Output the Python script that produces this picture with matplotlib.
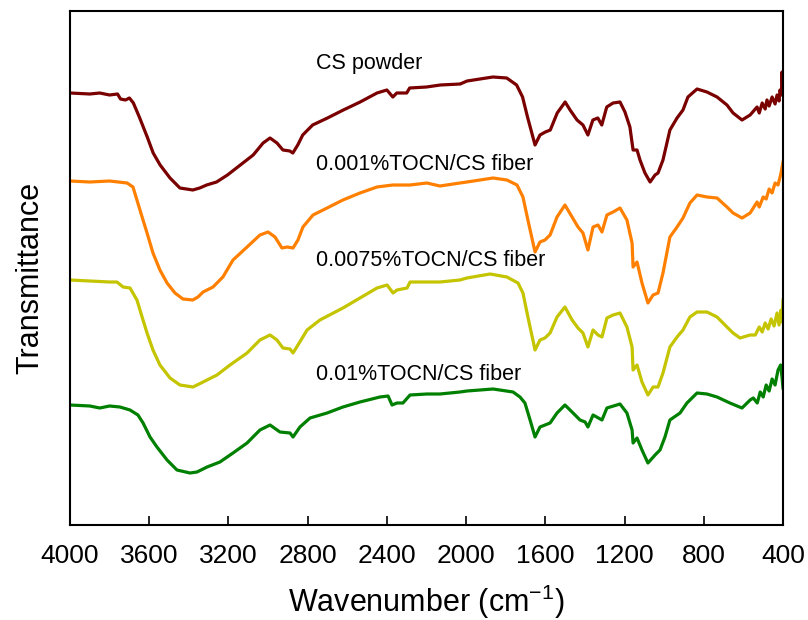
import numpy as np
import matplotlib.pyplot as plt

plt.rcParams['font.family'] = ['Liberation Sans', 'DejaVu Sans']
plt.rcParams['mathtext.fontset'] = 'custom'
plt.rcParams['mathtext.rm'] = 'Liberation Sans'
plt.rcParams['mathtext.it'] = 'Liberation Sans'

# CS powder spectrum (wavenumber, cm^-1 / transmittance, arbitrary offset units)
wn_cs = [4000, 3900, 3850, 3800, 3760, 3745, 3720, 3700, 3680, 3650, 3610, 3580,
         3545, 3495, 3445, 3380, 3345, 3310, 3260, 3205, 3140, 3075, 3025, 2990,
         2955, 2925, 2890, 2875, 2850, 2825, 2775, 2700, 2620, 2535, 2450, 2400,
         2370, 2350, 2300, 2285, 2200, 2130, 2030, 1995, 1865, 1795, 1745, 1715,
         1690, 1652, 1627, 1600, 1575, 1540, 1500, 1475, 1440, 1410, 1385, 1360,
         1335, 1315, 1290, 1258, 1223, 1198, 1173, 1157, 1137, 1122, 1097, 1071,
         1046, 1031, 1006, 971, 935, 905, 880, 834, 784, 733, 683, 652, 607, 566,
         531, 520, 505, 490, 481, 470, 455, 440, 430, 420, 415, 408, 405, 402, 400]
t_cs = [432, 431, 432, 430, 431, 426, 425, 427, 422, 408, 388, 372,
        360, 347, 337, 335, 337, 340, 343, 350, 360, 370, 382, 387,
        382, 375, 374, 372, 380, 390, 400, 407, 415, 423, 432, 435,
        428, 432, 432, 437, 438, 440, 441, 444, 448, 447, 440, 428,
        408, 380, 390, 393, 395, 412, 423, 415, 405, 400, 390, 405,
        407, 400, 418, 422, 423, 413, 398, 375, 375, 365, 352, 343,
        350, 352, 365, 395, 407, 415, 428, 436, 433, 428, 420, 412, 405, 410,
        418, 412, 422, 416, 425, 419, 428, 421, 430, 424, 435, 430, 453, 440, 446]

# 0.001% TOCN/CS fiber
wn_a = [4000, 3900, 3800, 3712, 3682, 3662, 3636, 3611, 3581, 3546, 3510, 3470,
        3430, 3380, 3354, 3328, 3278, 3228, 3177, 3106, 3041, 3000, 2965, 2930,
        2904, 2874, 2849, 2824, 2773, 2702, 2622, 2536, 2450, 2370, 2283, 2198,
        2132, 2031, 1996, 1864, 1794, 1743, 1713, 1688, 1652, 1627, 1602, 1576,
        1541, 1501, 1465, 1435, 1410, 1385, 1359, 1334, 1314, 1289, 1258, 1223,
        1188, 1162, 1157, 1137, 1112, 1082, 1056, 1031, 1006, 971, 935, 905, 870,
        834, 784, 733, 683, 652, 607, 566, 531, 520, 500, 485, 470, 455, 440, 425,
        410, 400]
t_a = [344, 343, 344, 342, 338, 325, 308, 292, 272, 255, 242, 232,
       226, 225, 228, 233, 238, 248, 265, 278, 290, 293, 288, 277,
       278, 277, 285, 298, 310, 317, 325, 332, 338, 340, 340, 342,
       339, 342, 343, 347, 345, 340, 328, 305, 273, 283, 285, 290,
       308, 320, 308, 298, 292, 275, 298, 300, 293, 310, 313, 317,
       305, 282, 258, 263, 242, 222, 230, 232, 252, 288, 298, 307, 322,
       330, 328, 327, 318, 312, 307, 312, 323, 318, 328, 326, 336, 332, 342, 340,
       352, 363]

# 0.0075% TOCN/CS fiber
wn_b = [4000, 3900, 3800, 3763, 3732, 3697, 3662, 3636, 3611, 3581, 3546, 3495,
        3445, 3379, 3328, 3258, 3192, 3106, 3041, 2990, 2955, 2925, 2889, 2874,
        2849, 2803, 2738, 2622, 2536, 2450, 2399, 2369, 2349, 2298, 2283, 2198,
        2132, 2031, 1996, 1879, 1794, 1738, 1713, 1688, 1652, 1627, 1602, 1576,
        1541, 1501, 1465, 1435, 1410, 1385, 1359, 1334, 1314, 1289, 1258, 1223,
        1188, 1162, 1157, 1137, 1112, 1082, 1056, 1031, 1006, 971, 935, 905, 870,
        834, 784, 733, 683, 652, 617, 566, 540, 520, 505, 490, 475, 460, 445, 430,
        420, 410, 405, 400]
t_b = [245, 244, 243, 243, 238, 237, 225, 208, 192, 175, 160, 147,
       140, 138, 143, 150, 160, 172, 185, 190, 185, 177, 176, 172,
       180, 195, 205, 217, 227, 237, 240, 232, 235, 237, 243, 243,
       243, 245, 247, 251, 248, 242, 232, 208, 175, 185, 187, 192,
       208, 218, 205, 197, 192, 178, 195, 190, 188, 207, 210, 212,
       198, 178, 155, 160, 143, 130, 138, 138, 152, 178, 188, 195, 208,
       213, 213, 208, 198, 192, 187, 190, 190, 198, 193, 202, 196, 206, 199, 212,
       200, 215, 203, 225]

# 0.01% TOCN/CS fiber
wn_c = [4000, 3900, 3850, 3800, 3748, 3697, 3657, 3631, 3596, 3561, 3510, 3460,
        3394, 3359, 3308, 3243, 3177, 3106, 3041, 2990, 2940, 2889, 2874, 2839,
        2788, 2702, 2622, 2536, 2435, 2394, 2374, 2349, 2319, 2283, 2198, 2132,
        2031, 1996, 1864, 1763, 1728, 1703, 1677, 1652, 1627, 1576, 1541, 1501,
        1460, 1425, 1399, 1385, 1359, 1314, 1289, 1223, 1188, 1162, 1157, 1137,
        1112, 1082, 1046, 1021, 996, 971, 920, 885, 834, 784, 733, 668, 607, 566,
        550, 530, 515, 500, 485, 470, 455, 440, 425, 412, 405, 400]
t_c = [120, 119, 117, 119, 118, 115, 110, 102, 88, 78, 65, 55,
       52, 53, 58, 63, 72, 82, 95, 100, 93, 92, 88, 98,
       107, 112, 118, 123, 128, 129, 120, 122, 122, 130, 131, 131,
       133, 134, 136, 133, 128, 122, 105, 88, 98, 102, 112, 120,
       112, 105, 103, 98, 110, 105, 117, 121, 112, 95, 82, 87,
       75, 62, 70, 75, 88, 105, 112, 122, 132, 131, 128, 122, 117, 125,
       127, 122, 133, 128, 140, 134, 146, 140, 155, 160, 148, 137]

series = [
    (wn_cs, t_cs, '#7a0000', 'CS powder', 462),
    (wn_a, t_a, '#ff8000', '0.001%TOCN/CS fiber', 360),
    (wn_b, t_b, '#c4c400', '0.0075%TOCN/CS fiber', 264),
    (wn_c, t_c, '#008000', '0.01%TOCN/CS fiber', 150),
]

fig = plt.figure(figsize=(8.08, 6.2), dpi=100)
ax = fig.add_axes([70 / 808, 95 / 620, 713 / 808, 514 / 620])

for wn, t, color, name, ylab in series:
    ax.plot(wn, t, color=color, lw=2.3)
    ax.text(2758, ylab, name, fontsize=15.5, va='center', ha='left')

ax.set_xlim(4000, 400)
ax.set_ylim(0, 514)
ax.set_xticks(np.arange(4000, 399, -400))
ax.set_yticks([])
ax.tick_params(axis='x', direction='in', length=6.5, width=1.2,
               labelsize=19, pad=14)
for sp in ax.spines.values():
    sp.set_linewidth(1.5)

ax.set_xlabel('Wavenumber (cm$^{-1}$)', fontsize=22, labelpad=10)
ax.set_ylabel('Transmittance', fontsize=22)
ax.yaxis.set_label_coords(-0.035, 0.48)

fig.savefig('out.png', dpi=100)
